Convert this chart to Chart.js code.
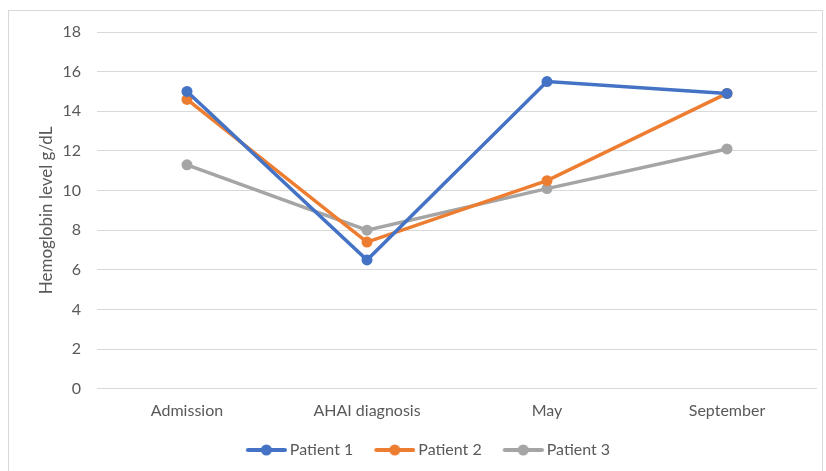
<!DOCTYPE html>
<html>
<head>
<meta charset="utf-8">
<script src="https://cdn.jsdelivr.net/npm/chart.js@4/dist/chart.umd.min.js"></script>
<style>
  body { margin: 0; background: #fff; }
  #frame { position: absolute; left: 8px; top: 10px; width: 815px; height: 470px; border: 1px solid #d9d9d9; box-sizing: border-box; }
  #wrap { position: absolute; left: 0; top: 0; width: 826px; height: 471px; }
</style>
</head>
<body>
<div id="frame"></div>
<div id="wrap"><canvas id="hb-chart"></canvas></div>
<script>
const categories = ['Admission', 'AHAI diagnosis', 'May', 'September']
const patient1 = [15.0, 6.5, 15.5, 14.9]
const patient2 = [14.6, 7.4, 10.5, 14.9]
const patient3 = [11.3, 8.0, 10.1, 12.1]
const yTicks = [0, 2, 4, 6, 8, 10, 12, 14, 16, 18]

const colors = ['#4472C4', '#ED7D31', '#A5A5A5']
const fontFamily = 'Lato, "Open Sans", sans-serif'

// legend marker: short line with a dot, shifted right inside a wider image
const legendMarker = color => {
  const c = document.createElement('canvas')
  c.width = 49
  c.height = 12
  const ctx = c.getContext('2d')
  ctx.strokeStyle = color
  ctx.lineWidth = 4
  ctx.lineCap = 'round'
  ctx.beginPath()
  ctx.moveTo(10, 6)
  ctx.lineTo(47, 6)
  ctx.stroke()
  ctx.fillStyle = color
  ctx.beginPath()
  ctx.arc(28.5, 6, 5.5, 0, Math.PI * 2)
  ctx.fill()
  return c
}

const makeSet = (label, data, color) => ({
  label,
  data,
  borderColor: color,
  backgroundColor: color,
  borderWidth: 3.5,
  pointRadius: 5.5,
  pointHoverRadius: 5.5,
  pointBorderWidth: 0,
  tension: 0,
})

new Chart(document.getElementById('hb-chart').getContext('2d'), {
  type: 'line',
  data: {
    labels: categories,
    datasets: [
      makeSet('Patient 1', patient1, colors[0]),
      makeSet('Patient 2', patient2, colors[1]),
      makeSet('Patient 3', patient3, colors[2]),
    ],
  },
  options: {
    responsive: true,
    maintainAspectRatio: false,
    animation: false,
    layout: { padding: { left: 36, right: 9, top: 32, bottom: 3 } },
    scales: {
      x: {
        offset: true,
        grid: { display: false },
        border: { display: false },
        ticks: { color: '#595959', font: { family: fontFamily, size: 16 }, padding: 4 },
      },
      y: {
        min: 0,
        max: 18,
        afterBuildTicks: axis => { axis.ticks = yTicks.map(value => ({ value })) },
        afterFit: axis => { axis.width = 61 },
        grid: { color: '#d9d9d9', lineWidth: 1, drawTicks: false },
        border: { display: false },
        ticks: { color: '#595959', font: { family: fontFamily, size: 16 }, padding: 16 },
        title: {
          display: true,
          text: 'Hemoglobin level g/dL',
          color: '#595959',
          font: { family: fontFamily, size: 17 },
          padding: 0,
        },
      },
    },
    plugins: {
      tooltip: { enabled: false },
      legend: {
        position: 'bottom',
        labels: {
          usePointStyle: true,
          pointStyleWidth: 39,
          color: '#595959',
          font: { family: fontFamily, size: 16 },
          padding: 18,
          boxWidth: 39,
          boxHeight: 12,
          generateLabels: chart => chart.data.datasets.map((ds, i) => ({
            text: ds.label,
            fontColor: '#595959',
            pointStyle: legendMarker(ds.borderColor),
            strokeStyle: ds.borderColor,
            fillStyle: ds.borderColor,
            lineWidth: 0,
            datasetIndex: i,
            hidden: false,
          })),
        },
      },
    },
  },
})
</script>
</body>
</html>
